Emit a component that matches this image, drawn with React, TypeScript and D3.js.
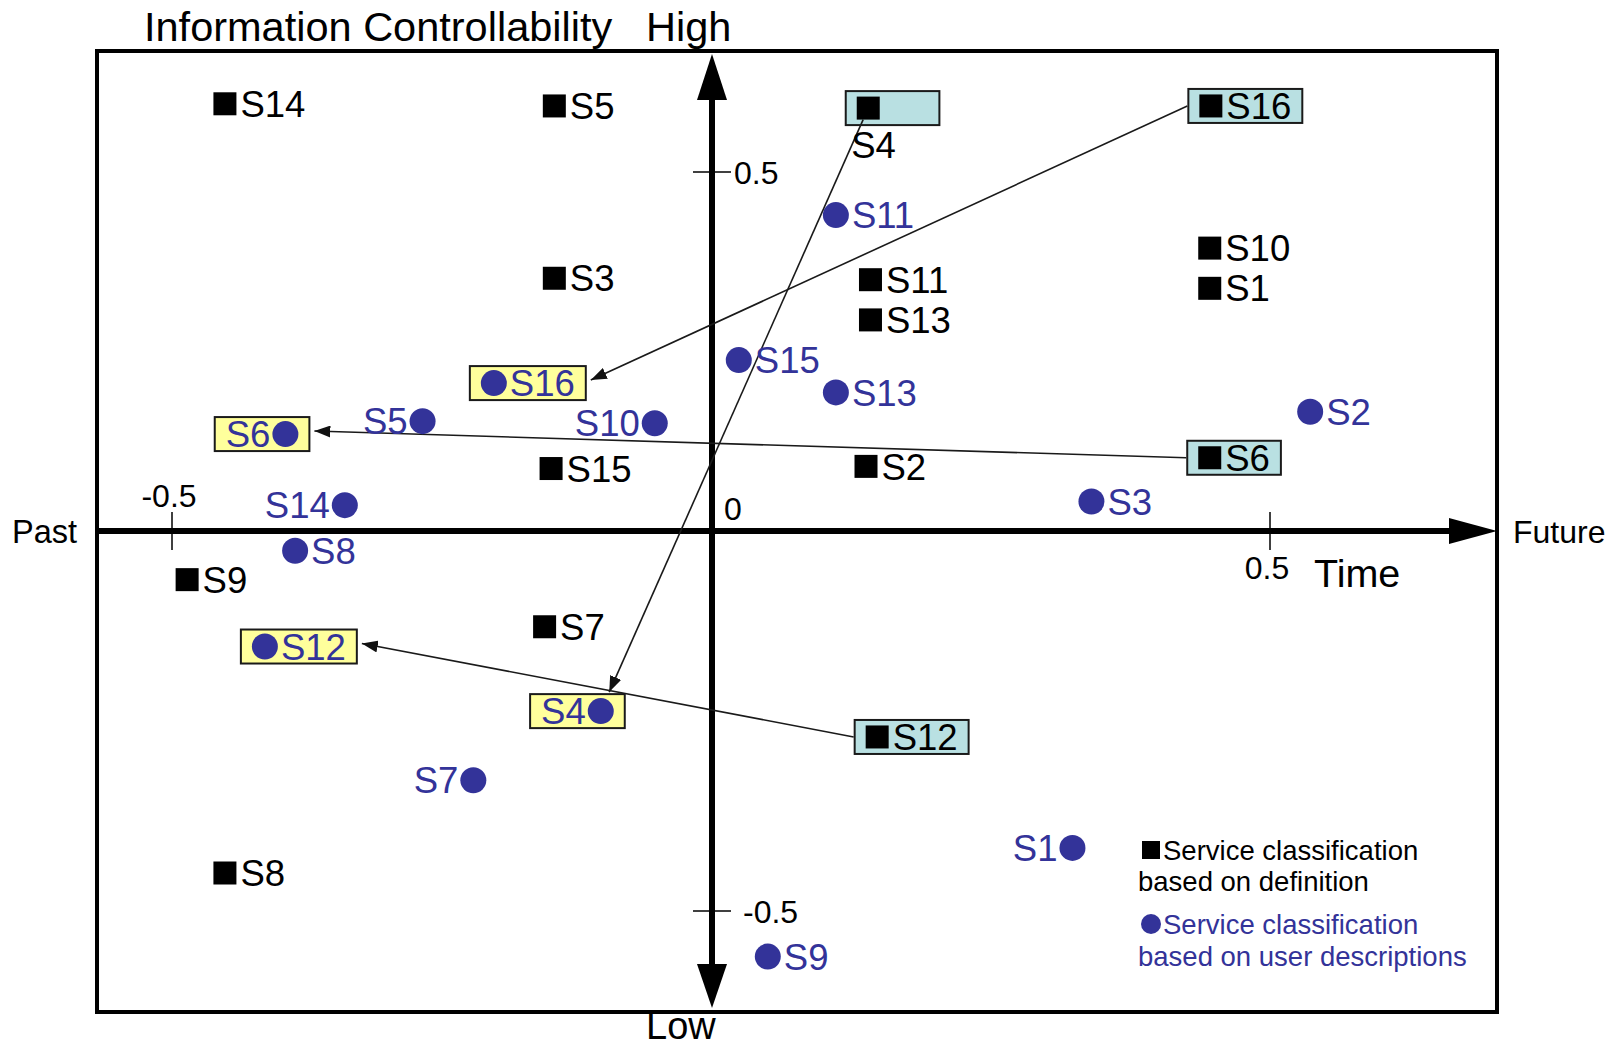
import { useEffect, useRef } from "react";
import * as d3 from "d3";

interface Service {
  id: string;
  x: number;
  y: number;
}

// Service positions classified by definition (black squares)
const definitionServices: Service[] = [
  { id: "S14", x: -0.451, y: 0.595 },
  { id: "S5", x: -0.146, y: 0.592 },
  { id: "S4", x: 0.14, y: 0.589 },
  { id: "S16", x: 0.447, y: 0.592 },
  { id: "S3", x: -0.146, y: 0.352 },
  { id: "S11", x: 0.142, y: 0.35 },
  { id: "S13", x: 0.142, y: 0.294 },
  { id: "S10", x: 0.446, y: 0.394 },
  { id: "S1", x: 0.446, y: 0.338 },
  { id: "S15", x: -0.149, y: 0.087 },
  { id: "S2", x: 0.138, y: 0.09 },
  { id: "S6", x: 0.446, y: 0.102 },
  { id: "S9", x: -0.486, y: -0.064 },
  { id: "S7", x: -0.155, y: -0.126 },
  { id: "S12", x: 0.148, y: -0.271 },
  { id: "S8", x: -0.451, y: -0.45 },
];

// Service positions from user descriptions (blue dots)
const userServices: Service[] = [
  { id: "S11", x: 0.111, y: 0.44 },
  { id: "S15", x: 0.024, y: 0.238 },
  { id: "S13", x: 0.111, y: 0.193 },
  { id: "S2", x: 0.536, y: 0.166 },
  { id: "S3", x: 0.34, y: 0.041 },
  { id: "S16", x: -0.202, y: 0.206 },
  { id: "S5", x: -0.268, y: 0.153 },
  { id: "S10", x: -0.053, y: 0.15 },
  { id: "S6", x: -0.395, y: 0.135 },
  { id: "S14", x: -0.34, y: 0.036 },
  { id: "S8", x: -0.386, y: -0.026 },
  { id: "S12", x: -0.414, y: -0.152 },
  { id: "S4", x: -0.103, y: -0.237 },
  { id: "S7", x: -0.221, y: -0.328 },
  { id: "S1", x: 0.323, y: -0.417 },
  { id: "S9", x: 0.05, y: -0.56 },
];

// user dots whose label sits on the left of the dot
const userLabelLeft = ["S5", "S10", "S6", "S14", "S4", "S7", "S1"];
// definition squares whose label sits under the marker
const definitionLabelBelow = ["S4"];
// services that moved between the two classifications
const movedServices = ["S16", "S6", "S4", "S12"];

const xTicks = [-0.5, 0.5];
const yTicks = [0.5, -0.5];

const legendDefinition = ["Service classification", "based on definition"];
const legendUser = ["Service classification", "based on user descriptions"];

const W = 1614;
const H = 1049;
const BLUE = "#333399";
const FONT = "'Liberation Sans', Arial, Helvetica, sans-serif";

const App = () => {
  const svgRef = useRef<SVGSVGElement>(null);

  useEffect(() => {
    if (!svgRef.current) return;
    const svg = d3.select(svgRef.current);
    svg.selectAll("*").remove();

    const frame = { left: 97, top: 51, right: 1497, bottom: 1012 };

    // hand drawn axes are not quite symmetric, so use piecewise scales
    const x = d3.scaleLinear().domain([-0.5, 0, 0.5]).range([172, 712, 1270]);
    const y = d3.scaleLinear().domain([-0.5, 0, 0.5]).range([911, 531, 172]);
    const x0 = x(0);
    const y0 = y(0);

    svg
      .append("defs")
      .append("marker")
      .attr("id", "arrowHead")
      .attr("viewBox", "0 0 16 12")
      .attr("refX", 16)
      .attr("refY", 6)
      .attr("markerWidth", 16)
      .attr("markerHeight", 12)
      .attr("markerUnits", "userSpaceOnUse")
      .attr("orient", "auto")
      .append("path")
      .attr("d", "M0,0 L16,6 L0,12 Z")
      .attr("fill", "#111");

    svg.append("rect").attr("width", W).attr("height", H).attr("fill", "#fff");

    // frame
    svg
      .append("rect")
      .attr("x", frame.left)
      .attr("y", frame.top)
      .attr("width", frame.right - frame.left)
      .attr("height", frame.bottom - frame.top)
      .attr("fill", "none")
      .attr("stroke", "#000")
      .attr("stroke-width", 4);

    // axes
    svg
      .append("line")
      .attr("x1", frame.left)
      .attr("x2", frame.right - 44)
      .attr("y1", y0)
      .attr("y2", y0)
      .attr("stroke", "#000")
      .attr("stroke-width", 6);
    svg
      .append("path")
      .attr("d", `M${frame.right},${y0} L${frame.right - 48},${y0 - 13} L${frame.right - 48},${y0 + 13} Z`)
      .attr("fill", "#000");
    svg
      .append("line")
      .attr("x1", x0)
      .attr("x2", x0)
      .attr("y1", 96)
      .attr("y2", 968)
      .attr("stroke", "#000")
      .attr("stroke-width", 6);
    svg
      .append("path")
      .attr("d", `M${x0},54 L${x0 - 15},100 L${x0 + 15},100 Z`)
      .attr("fill", "#000");
    svg
      .append("path")
      .attr("d", `M${x0},1008 L${x0 - 15},964 L${x0 + 15},964 Z`)
      .attr("fill", "#000");

    // ticks
    svg
      .selectAll("line.xtick")
      .data(xTicks)
      .join("line")
      .attr("class", "xtick")
      .attr("x1", (d) => x(d))
      .attr("x2", (d) => x(d))
      .attr("y1", y0 - 19)
      .attr("y2", y0 + 19)
      .attr("stroke", "#000")
      .attr("stroke-width", 1.5);
    svg
      .selectAll("text.xtick")
      .data(xTicks)
      .join("text")
      .attr("class", "xtick")
      .attr("x", (d) => x(d) - 3)
      .attr("y", (d) => (d < 0 ? y0 - 36 : y0 + 36))
      .attr("dy", "0.36em")
      .attr("text-anchor", "middle")
      .attr("font-family", FONT)
      .attr("font-size", 32)
      .text((d) => String(d));
    svg
      .selectAll("line.ytick")
      .data(yTicks)
      .join("line")
      .attr("class", "ytick")
      .attr("x1", x0 - 19)
      .attr("x2", x0 + 19)
      .attr("y1", (d) => y(d))
      .attr("y2", (d) => y(d))
      .attr("stroke", "#000")
      .attr("stroke-width", 1.5);
    svg
      .selectAll("text.ytick")
      .data(yTicks)
      .join("text")
      .attr("class", "ytick")
      .attr("x", (d) => (d < 0 ? x0 + 31 : x0 + 22))
      .attr("y", (d) => y(d))
      .attr("dy", "0.36em")
      .attr("font-family", FONT)
      .attr("font-size", 32)
      .text((d) => String(d));
    svg
      .append("text")
      .attr("x", x0 + 12)
      .attr("y", y0 - 23)
      .attr("dy", "0.36em")
      .attr("font-family", FONT)
      .attr("font-size", 32)
      .text("0");

    // axis titles
    const addText = (tx: number, ty: number, size: number, label: string, dy = "0.36em") =>
      svg
        .append("text")
        .attr("x", tx)
        .attr("y", ty)
        .attr("dy", dy)
        .attr("font-family", FONT)
        .attr("font-size", size)
        .attr("fill", "#000")
        .text(label);
    addText(144, 26, 41.5, "Information Controllability");
    addText(646, 26, 41.5, "High");
    addText(646, 1039, 38, "Low", "0");
    addText(12, y0, 32.5, "Past");
    addText(1513, y0, 32, "Future");
    addText(1314, 573, 39.5, "Time");

    const SQ = 23;
    const R = 13;
    const LABEL = 36.5;
    const PAD = 11;
    const BOX_H = 34;

    type Box = { left: number; right: number; cx: number; cy: number };
    const defBoxes: Record<string, Box> = {};
    const userBoxes: Record<string, Box> = {};

    const boxLayer = svg.append("g");
    const arrowLayer = svg.append("g");
    const markLayer = svg.append("g");

    // definition squares
    definitionServices.forEach((s) => {
      const cx = x(s.x);
      const cy = y(s.y);
      markLayer
        .append("rect")
        .attr("x", cx - SQ / 2)
        .attr("y", cy - SQ / 2)
        .attr("width", SQ)
        .attr("height", SQ)
        .attr("fill", "#000");
      const below = definitionLabelBelow.includes(s.id);
      const t = markLayer
        .append("text")
        .attr("x", below ? cx - 17 : cx + SQ / 2 + 4)
        .attr("y", below ? cy + 37 : cy)
        .attr("dy", "0.36em")
        .attr("font-family", FONT)
        .attr("font-size", LABEL)
        .attr("fill", "#000")
        .text(s.id);
      const w = (t.node() as SVGTextElement).getComputedTextLength();
      defBoxes[s.id] = { left: cx - SQ / 2 - PAD, right: cx + SQ / 2 + 4 + w + PAD, cx, cy };
    });

    // user description dots
    userServices.forEach((s) => {
      const cx = x(s.x);
      const cy = y(s.y);
      markLayer.append("circle").attr("cx", cx).attr("cy", cy).attr("r", R).attr("fill", BLUE);
      const left = userLabelLeft.includes(s.id);
      const t = markLayer
        .append("text")
        .attr("x", left ? cx - R - 2 : cx + R + 3)
        .attr("y", cy)
        .attr("dy", "0.36em")
        .attr("text-anchor", left ? "end" : "start")
        .attr("font-family", FONT)
        .attr("font-size", LABEL)
        .attr("fill", BLUE)
        .text(s.id);
      const w = (t.node() as SVGTextElement).getComputedTextLength();
      userBoxes[s.id] = left
        ? { left: cx - R - 2 - w - PAD, right: cx + R + PAD, cx, cy }
        : { left: cx - R - PAD, right: cx + R + 3 + w + PAD, cx, cy };
    });

    // highlight boxes for the moved services
    movedServices.forEach((id) => {
      const d = defBoxes[id];
      const u = userBoxes[id];
      boxLayer
        .append("rect")
        .attr("x", d.left)
        .attr("y", d.cy - BOX_H / 2)
        .attr("width", d.right - d.left)
        .attr("height", BOX_H)
        .attr("fill", "#b9e0e2")
        .attr("stroke", "#1a1a1a")
        .attr("stroke-width", 2);
      boxLayer
        .append("rect")
        .attr("x", u.left)
        .attr("y", u.cy - BOX_H / 2)
        .attr("width", u.right - u.left)
        .attr("height", BOX_H)
        .attr("fill", "#ffff9c")
        .attr("stroke", "#1a1a1a")
        .attr("stroke-width", 2);

      // arrow from the definition position to the user position
      const dx = u.cx - d.cx;
      const dy = u.cy - d.cy;
      let x1: number, y1: number, x2: number, y2: number;
      if (Math.abs(dx) > Math.abs(dy)) {
        x1 = d.left - 1;
        y1 = d.cy;
        x2 = u.right + 5;
        y2 = u.cy - 3;
      } else {
        const k = dx / dy;
        y1 = d.cy + SQ / 2;
        x1 = d.cx + k * (y1 - d.cy);
        y2 = u.cy - BOX_H / 2 - 2;
        x2 = d.cx + k * (y2 - d.cy);
      }
      arrowLayer
        .append("line")
        .attr("x1", x1)
        .attr("y1", y1)
        .attr("x2", x2)
        .attr("y2", y2)
        .attr("stroke", "#1a1a1a")
        .attr("stroke-width", 1.6)
        .attr("marker-end", "url(#arrowHead)");
    });

    // legend
    const legend = svg.append("g").attr("font-family", FONT).attr("font-size", 27.5);
    legend.append("rect").attr("x", 1142).attr("y", 841).attr("width", 18).attr("height", 18).attr("fill", "#000");
    legendDefinition.forEach((line, i) => {
      legend
        .append("text")
        .attr("x", i === 0 ? 1163 : 1138)
        .attr("y", 850 + i * 31)
        .attr("dy", "0.36em")
        .attr("fill", "#000")
        .text(line);
    });
    legend.append("circle").attr("cx", 1151).attr("cy", 924).attr("r", 10).attr("fill", BLUE);
    legendUser.forEach((line, i) => {
      legend
        .append("text")
        .attr("x", i === 0 ? 1163 : 1138)
        .attr("y", 924 + i * 32)
        .attr("dy", "0.36em")
        .attr("fill", BLUE)
        .text(line);
    });
  }, []);

  return (
    <svg
      ref={svgRef}
      width={W}
      height={H}
      style={{ position: "absolute", left: 0, top: 0, background: "#fff" }}
    />
  );
};

export default App;
